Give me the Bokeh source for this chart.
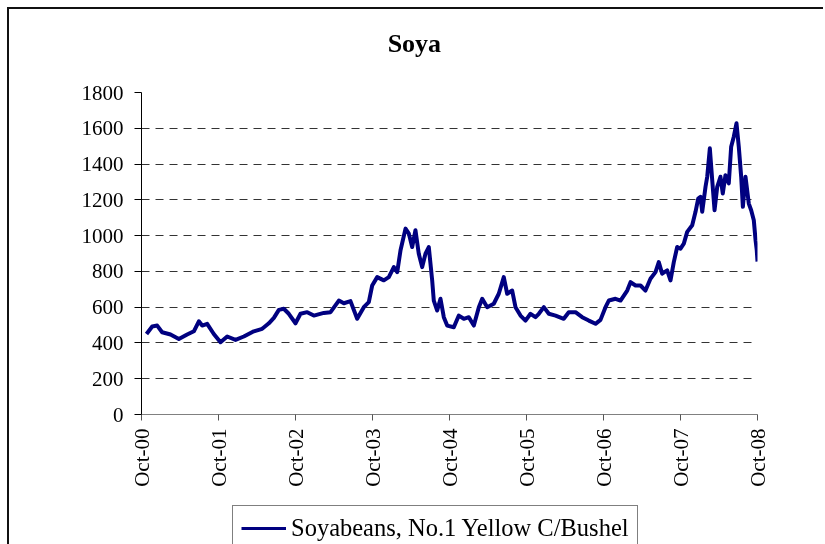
import math
from bokeh.plotting import figure
from bokeh.layouts import column
from bokeh.models import (FixedTicker, Range1d, Legend, LegendItem,
                          ColumnDataSource, Label)
from bokeh.embed import file_html
from bokeh.resources import INLINE

# years elapsed since Oct-2000
t_years = [0.065, 0.139, 0.204, 0.268, 0.377, 0.485, 0.593, 0.680, 0.745, 0.788,
           0.853, 0.939, 1.026, 1.113, 1.221, 1.329, 1.459, 1.567, 1.654, 1.719,
           1.784, 1.848, 1.913, 2.000, 2.065, 2.152, 2.238, 2.368, 2.455, 2.563,
           2.628, 2.714, 2.801, 2.887, 2.952, 2.996, 3.061, 3.147, 3.212, 3.277,
           3.321, 3.364, 3.429, 3.472, 3.515, 3.558, 3.601, 3.645, 3.688, 3.731,
           3.775, 3.796, 3.840, 3.883, 3.926, 3.970, 4.056, 4.121, 4.186, 4.251,
           4.316, 4.381, 4.425, 4.490, 4.575, 4.640, 4.705, 4.749, 4.814, 4.857,
           4.922, 4.987, 5.052, 5.117, 5.160, 5.225, 5.290, 5.377, 5.484, 5.549,
           5.636, 5.723, 5.809, 5.896, 5.961, 6.026, 6.069, 6.156, 6.221, 6.308,
           6.351, 6.416, 6.481, 6.545, 6.610, 6.675, 6.718, 6.762, 6.827, 6.870,
           6.913, 6.957, 7.000, 7.043, 7.087, 7.152, 7.195, 7.230, 7.260, 7.282,
           7.325, 7.347, 7.381, 7.412, 7.442, 7.477, 7.519, 7.549, 7.584, 7.627,
           7.658, 7.692, 7.727, 7.757, 7.788, 7.810, 7.844, 7.887, 7.918, 7.952,
           7.975, 7.990, 8.000]
price = [450, 492, 497, 460, 447, 422, 447, 465, 521, 497,
         507, 450, 404, 436, 417, 436, 465, 479, 510, 540,
         585, 591, 563, 510, 563, 572, 553, 568, 572, 637,
         622, 634, 535, 600, 628, 721, 768, 750, 768, 824,
         796, 918, 1039, 1011, 936, 1030, 899, 824, 899, 936,
         750, 637, 581, 647, 544, 497, 488, 553, 535, 544,
         497, 600, 647, 600, 619, 675, 768, 675, 693, 600,
         553, 525, 563, 544, 563, 600, 563, 553, 535, 572,
         572, 544, 525, 507, 529, 600, 637, 647, 637, 693,
         740, 721, 721, 693, 759, 796, 852, 787, 806, 750,
         852, 936, 927, 955, 1021, 1058, 1133, 1207, 1217, 1133,
         1273, 1329, 1488, 1310, 1142, 1273, 1329, 1235, 1338, 1292,
         1497, 1553, 1628, 1497, 1329, 1161, 1329, 1179, 1142, 1086,
         974, 920, 855]

x_tick_labels = ["Oct-00", "Oct-01", "Oct-02", "Oct-03", "Oct-04",
                 "Oct-05", "Oct-06", "Oct-07", "Oct-08"]
y_ticks = [0, 200, 400, 600, 800, 1000, 1200, 1400, 1600, 1800]
series_name = "Soyabeans, No.1 Yellow C/Bushel"
title_text = "Soya"

FONT = "Liberation Serif"
LINE_COLOR = "#000080"
FRAME_W = 616
BORDERS = dict(min_border_left=132, min_border_right=66)


def bare(fig):
    fig.outline_line_color = None
    fig.background_fill_color = "white"
    fig.border_fill_color = "white"
    return fig


# ---- title strip ----
p0 = bare(figure(frame_width=FRAME_W, frame_height=71, output_backend="svg",
                 toolbar_location=None,
                 x_range=Range1d(0, 1), y_range=Range1d(0, 1),
                 x_axis_type=None, y_axis_type=None,
                 min_border_top=0, min_border_bottom=0, **BORDERS))
p0.grid.visible = False
p0.add_layout(Label(x=0.443, y=0.52, text=title_text, text_font=FONT,
                    text_font_style="bold", text_font_size="26px",
                    text_align="center", text_baseline="alphabetic",
                    text_color="black"))

# ---- main chart ----
p = bare(figure(frame_width=FRAME_W, frame_height=322, output_backend="svg",
                toolbar_location=None,
                x_range=Range1d(0, len(x_tick_labels) - 1),
                y_range=Range1d(0, 1800),
                min_border_top=12, min_border_bottom=91, **BORDERS))

src = ColumnDataSource(dict(t=t_years, v=price))
p.line("t", "v", source=src, line_color=LINE_COLOR, line_width=4,
       line_join="round")

p.xaxis.ticker = FixedTicker(ticks=list(range(len(x_tick_labels))))
p.xaxis.major_label_overrides = {i: s for i, s in enumerate(x_tick_labels)}
p.xaxis.major_label_orientation = math.pi / 2
p.xaxis.axis_line_color = "#808080"
p.xaxis.major_tick_line_color = "#555555"
p.xaxis.major_tick_out = 6
p.xaxis.major_tick_in = 0
p.xaxis.minor_tick_line_color = None
p.xaxis.major_label_standoff = 8

p.yaxis.ticker = FixedTicker(ticks=y_ticks)
p.yaxis.axis_line_color = "black"
p.yaxis.major_tick_line_color = "black"
p.yaxis.major_tick_out = 7
p.yaxis.major_tick_in = 0
p.yaxis.minor_tick_line_color = None
p.yaxis.major_label_standoff = 11

for ax in (p.xaxis, p.yaxis):
    ax.major_label_text_font = FONT
    ax.major_label_text_font_size = "21px"
    ax.major_label_text_color = "black"

p.xgrid.grid_line_color = None
p.ygrid.ticker = FixedTicker(ticks=y_ticks[1:])
p.ygrid.grid_line_color = "#333333"
p.ygrid.grid_line_dash = "8 6"
p.ygrid.grid_line_width = 1

# ---- legend strip ----
p2 = bare(figure(frame_width=FRAME_W, frame_height=40, output_backend="svg",
                 toolbar_location=None,
                 x_range=Range1d(0, 1), y_range=Range1d(0, 1),
                 x_axis_type=None, y_axis_type=None,
                 min_border_top=0, min_border_bottom=0, **BORDERS))
p2.grid.visible = False
# same series drawn outside this strip's visible range: serves as legend proxy
proxy = p2.line("t", "v", source=src, line_color=LINE_COLOR, line_width=3)
legend = Legend(items=[LegendItem(label=series_name, renderers=[proxy])],
                location=(91, -6), orientation="horizontal",
                label_text_font=FONT, label_text_font_size="24.5px",
                label_text_color="black",
                glyph_width=45, glyph_height=24, label_standoff=5,
                padding=8, margin=0, border_line_color="black",
                border_line_width=1, background_fill_alpha=1.0)
p2.add_layout(legend, "center")

root = column(p0, p, p2, spacing=0)
root.styles = {"position": "fixed", "left": "7px", "top": "7px",
               "border-top": "2px solid #111", "border-left": "2px solid #111"}

html = file_html(root, INLINE)
open("out.html", "w").write(html)
